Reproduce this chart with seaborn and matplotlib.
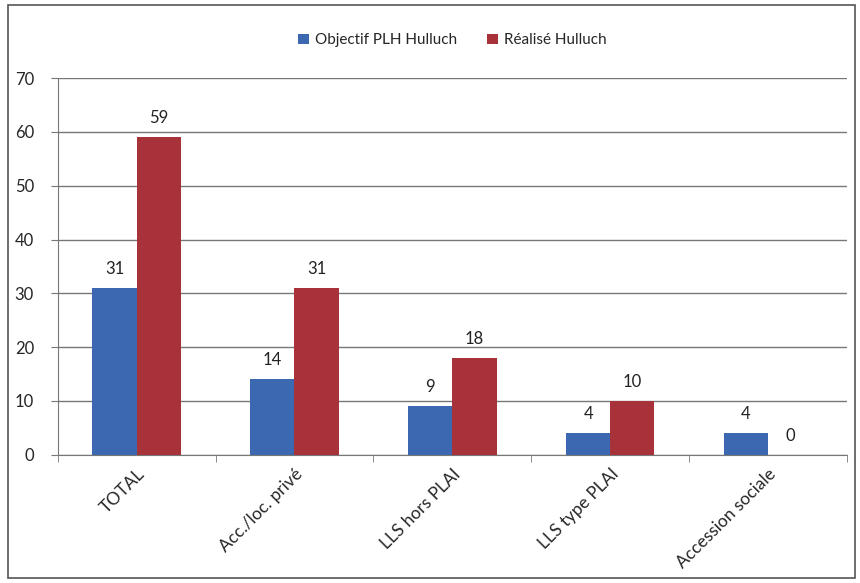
import pandas as pd
import numpy as np
import matplotlib
matplotlib.use("Agg")
import matplotlib.pyplot as plt
import seaborn as sns
from matplotlib.patches import Rectangle

# Data
categories = ["TOTAL", "Acc./loc. privé", "LLS hors PLAI", "LLS type PLAI", "Accession sociale"]
objectif = [31, 14, 9, 4, 4]
realise = [59, 31, 18, 10, 0]
series_names = ["Objectif PLH Hulluch", "Réalisé Hulluch"]

df = pd.DataFrame({
    "categorie": categories * 2,
    "serie": [series_names[0]] * len(categories) + [series_names[1]] * len(categories),
    "valeur": objectif + realise,
})

sns.set_style("white")
plt.rcParams["font.family"] = ["Lato", "DejaVu Sans"]

fig = plt.figure(figsize=(8.6, 5.83), dpi=100)
ax = fig.add_axes([0.067, 0.22, 0.918, 0.646])

palette = {series_names[0]: "#3B68B0", series_names[1]: "#A8323A"}
sns.barplot(data=df, x="categorie", y="valeur", hue="serie", palette=palette,
            width=0.56, saturation=1, linewidth=0, ax=ax)

# value labels
for cont in ax.containers:
    ax.bar_label(cont, padding=8, fontsize=12, color="#222222")

ax.set_ylim(0, 70)
ax.set_yticks(range(0, 71, 10))
ax.set_xlim(-0.5, len(categories) - 0.5)
ax.yaxis.grid(True, color="#777777", linewidth=1)
ax.set_axisbelow(True)
ax.set_xlabel("")
ax.set_ylabel("")

for s in ["top", "right"]:
    ax.spines[s].set_visible(False)
ax.spines["left"].set_color("#777777")
ax.spines["bottom"].set_color("#777777")

ax.tick_params(axis="y", left=True, length=5, color="#777777", labelsize=12, pad=12)
ax.set_xticks(range(len(categories)))
ax.set_xticklabels(categories, rotation=45, ha="right", rotation_mode="anchor", fontsize=12.5)
ax.tick_params(axis="x", length=0, pad=8)
ax.set_xticks(np.arange(-0.5, len(categories)), minor=True)
ax.tick_params(axis="x", which="minor", length=5, color="#777777", bottom=True)

leg = ax.legend(loc="lower center", bbox_to_anchor=(0.5, 1.045), ncol=2, frameon=False,
                fontsize=11, handlelength=0.7, handleheight=0.7, columnspacing=2.0,
                handletextpad=0.4)

# outer frame
fig.patches.append(Rectangle((0.009, 0.008), 0.985, 0.984, transform=fig.transFigure,
                             fill=False, edgecolor="#555555", linewidth=1.2))

fig.savefig("out.png", dpi=100)
